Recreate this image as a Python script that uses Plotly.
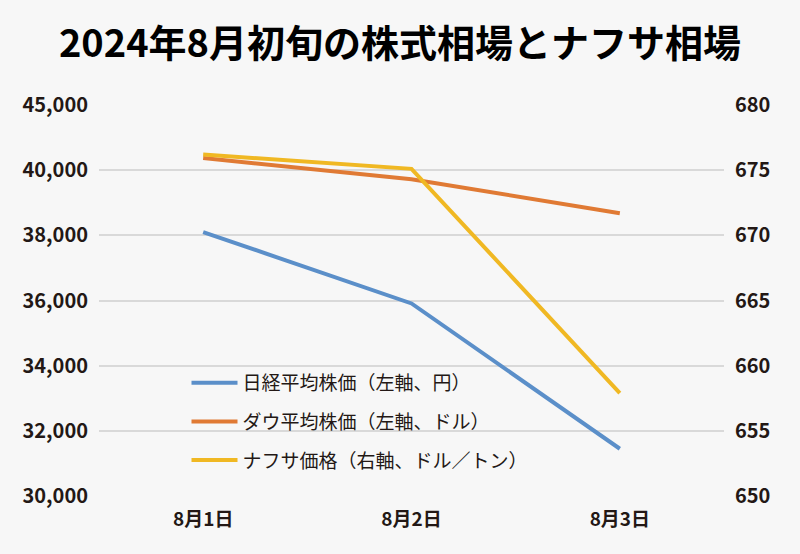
import plotly.graph_objects as go

# 株価・ナフサ相場（2024年8月初旬）
dates = ["8月1日", "8月2日", "8月3日"]
nikkei = [38100, 35910, 31450]      # 円（左軸）
dow = [40370, 39720, 38680]         # ドル（左軸）
naphtha = [676.2, 675.1, 657.9]     # ドル/トン（右軸）

left_ticks = [30000, 32000, 34000, 36000, 38000, 40000, 42000]
left_labels = ["30,000", "32,000", "34,000", "36,000", "38,000", "40,000", "45,000"]
right_ticks = [650, 655, 660, 665, 670, 675, 680]

FONT = "Noto Sans CJK JP"
TXT = "#231815"

fig = go.Figure()

fig.add_trace(go.Scatter(
    x=dates, y=nikkei, name="日経平均株価（左軸、円）", mode="lines",
    line=dict(color="#5b8fc9", width=4), legendgroup="a",
))
fig.add_trace(go.Scatter(
    x=dates, y=dow, name="ダウ平均株価（左軸、ドル）", mode="lines",
    line=dict(color="#e07a34", width=4), legendgroup="b",
))
fig.add_trace(go.Scatter(
    x=dates, y=naphtha, name="ナフサ価格（右軸、ドル／トン）", mode="lines",
    line=dict(color="#f0b823", width=4), legendgroup="c", yaxis="y2",
))

fig.update_layout(
    width=800, height=554,
    paper_bgcolor="#f7f7f7", plot_bgcolor="#f7f7f7",
    margin=dict(l=99, r=76, t=105, b=58),
    font=dict(family=FONT, color=TXT),
    title=dict(
        text="2024年8月初旬の株式相場とナフサ相場",
        x=0.5, xanchor="center", y=0.922, yanchor="middle",
        font=dict(size=38, family=FONT, weight="bold", color="#000000"),
    ),
    xaxis=dict(
        range=[-0.5, 2.5], showgrid=False, showline=False, ticks="",
        tickfont=dict(size=19, weight="bold", color=TXT), ticklabelstandoff=10,
    ),
    yaxis=dict(
        range=[30000, 42000], tickvals=left_ticks, ticktext=left_labels,
        showgrid=True, gridcolor="#d9d9d9", gridwidth=2, zeroline=False,
        tickfont=dict(size=20, weight="bold", color=TXT), ticks="",
        ticklabelstandoff=10,
    ),
    yaxis2=dict(
        range=[650, 680], tickvals=right_ticks, overlaying="y", side="right",
        showgrid=False, zeroline=False, ticks="",
        tickfont=dict(size=20, weight="bold", color=TXT),
        ticklabelstandoff=10,
    ),
    legend=dict(
        x=0.14, y=0.338, xanchor="left", yanchor="top",
        bgcolor="rgba(0,0,0,0)", font=dict(size=19, color=TXT),
        tracegroupgap=11, itemwidth=46,
    ),
)

fig.write_html(
    "out.html",
    config={"displayModeBar": False},
    post_script="document.body.style.margin='0';document.body.style.background='#f7f7f7';",
)
